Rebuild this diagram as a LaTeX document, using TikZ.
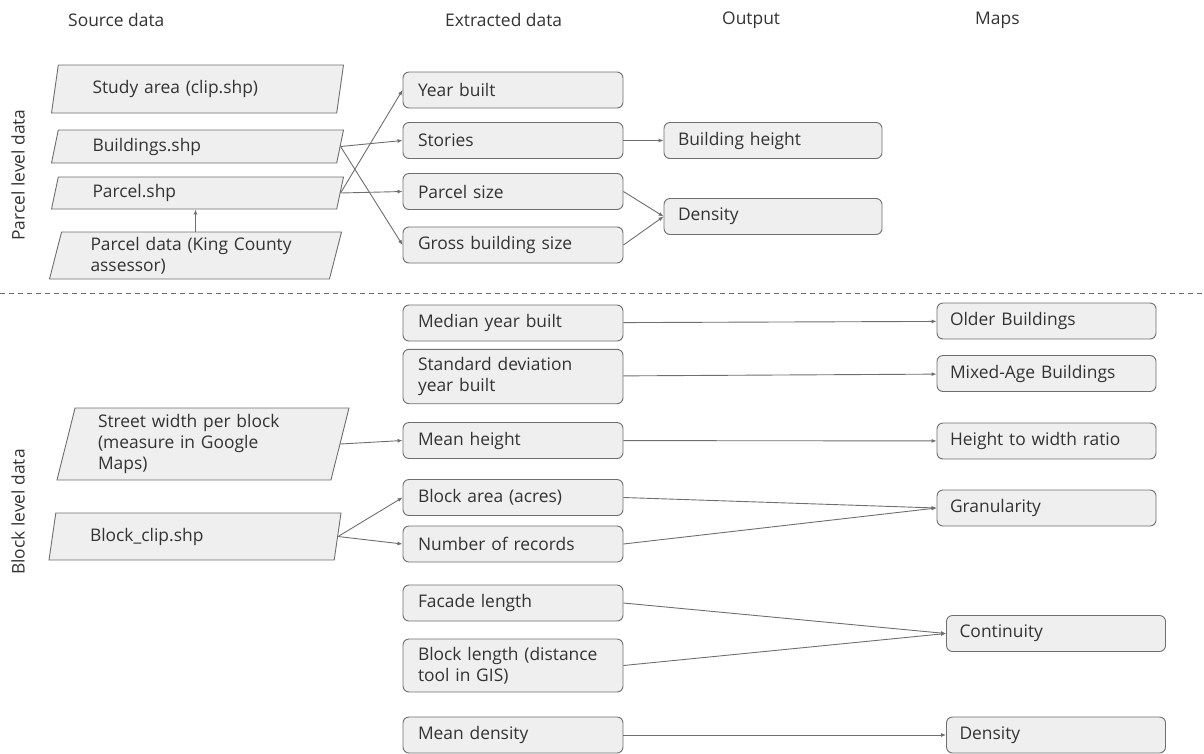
\documentclass[tikz,border=0pt]{standalone}
\usepackage{fontspec}
\setmainfont{Open Sans}
\usetikzlibrary{shapes.geometric,arrows.meta}
\definecolor{boxfill}{HTML}{EFEFEF}
\definecolor{boxline}{HTML}{6E6E6E}
\definecolor{txt}{HTML}{333333}

\begin{document}
\begin{tikzpicture}[x=1pt,y=-1pt,
    every node/.style={font=\fontsize{17.4}{21}\selectfont, text=txt},
    databox/.style={
      draw=boxline,
      fill=boxfill,
      line width=0.9pt,
      rounded corners=6pt,
      minimum width=220pt,
      minimum height=36pt,
      text width=190pt,
      inner xsep=15pt,
      inner ysep=8pt,
      align=left
    }]
\tikzset{srcbox/.style = {trapezium, trapezium left angle=75, trapezium right angle=105,
    trapezium stretches body, draw=boxline, fill=boxfill, line width=0.9pt,
    minimum width=292pt, text width=210pt, inner xsep=0pt, inner ysep=4pt, align=left}}
\tikzset{head/.style = {anchor=west, inner sep=0pt}}
\tikzset{edge/.style = {-{Latex[length=5pt,width=4pt]}, draw=boxline, line width=0.9pt}}
\useasboundingbox (0,0) rectangle (1204,753);
% column headings
\node[head] (hsrc) at (68,20) {Source data};
\node[head] (hext) at (445,20) {Extracted data};
\node[head] (hout) at (722,20) {Output};
\node[head] (hmap) at (975,20) {Maps};
% row labels
\node[rotate=90, inner sep=0pt] (lparcel) at (18,175) {Parcel level data};
\node[rotate=90, inner sep=0pt] (lblock) at (18,512) {Block level data};
\coordinate (divl) at (0,293);
\coordinate (divr) at (1204,293);
\draw[boxline, line width=0.9pt, dash pattern=on 5pt off 4pt] (divl) -- (divr);
% source data
\node[srcbox, minimum height=48pt] (study) at (197.5,89) {Study area (clip.shp)};
\node[srcbox, minimum height=33pt] (bldg) at (197.5,146.5) {Buildings.shp};
\node[srcbox, minimum height=32pt] (parcel) at (197.5,193) {Parcel.shp};
\node[srcbox, minimum height=47pt] (pdata) at (195.5,255.5) {Parcel data (King County\\assessor)};
\node[srcbox, minimum height=72pt] (street) at (203,444) {Street width per block\\(measure in Google\\Maps)};
\node[srcbox, minimum height=47pt] (bclip) at (195,536.5) {Block\_clip.shp};
% extracted data
\node[databox] (year) at (513,90) {Year built};
\node[databox] (stories) at (513,140.5) {Stories};
\node[databox] (psize) at (513,191.5) {Parcel size};
\node[databox] (gross) at (513,245) {Gross building size};
\node[databox] (median) at (513,323) {Median year built};
\node[databox] (stdev) at (513,376.5) {Standard deviation\\year built};
\node[databox] (mheight) at (513,440.5) {Mean height};
\node[databox] (barea) at (513,497.5) {Block area (acres)};
\node[databox] (nrec) at (513,544) {Number of records};
\node[databox] (facade) at (513,603) {Facade length};
\node[databox] (blength) at (513,665.5) {Block length (distance\\tool in GIS)};
\node[databox] (mdens) at (513,735) {Mean density};
% output
\node[databox, minimum width=218pt, text width=190pt, inner xsep=14pt] (bheight) at (773,140.5) {Building height};
\node[databox, minimum width=218pt, text width=190pt, inner xsep=14pt] (odens) at (773,216.5) {Density};
% maps
\node[databox, minimum width=219pt, text width=193pt, inner xsep=13pt] (older) at (1046.5,321) {Older Buildings};
\node[databox, minimum width=219pt, text width=193pt, inner xsep=13pt] (mixed) at (1046.5,373.5) {Mixed-Age Buildings};
\node[databox, minimum width=219pt, text width=193pt, inner xsep=13pt] (hwratio) at (1046.5,441) {Height to width ratio};
\node[databox, minimum width=219pt, text width=193pt, inner xsep=13pt] (gran) at (1046.5,508) {Granularity};
\node[databox, minimum width=219pt, text width=193pt, inner xsep=13pt] (cont) at (1056,633.5) {Continuity};
\node[databox, minimum width=219pt, text width=193pt, inner xsep=13pt] (mdensmap) at (1056,735) {Density};
% parcel level
\draw[edge] (pdata.north) -- (pdata.north |- parcel.south);
\draw[edge] (bldg.east) -- (stories.west);
\draw[edge] (bldg.east) -- (gross.west);
\draw[edge] (parcel.east) -- (year.west);
\draw[edge] (parcel.east) -- (psize.west);
\draw[edge] (stories) -- (bheight);
\draw[edge] (psize.east) -- (odens.west);
\draw[edge] (gross.east) -- (odens.west);
% block level
\draw[edge] (median) -- (older);
\draw[edge] (stdev) -- (mixed);
\draw[edge] (street.east) -- (mheight.west);
\draw[edge] (mheight) -- (hwratio);
\draw[edge] (bclip.east) -- (barea.west);
\draw[edge] (bclip.east) -- (nrec.west);
\draw[edge] (barea.east) -- (gran.west);
\draw[edge] (nrec.east) -- (gran.west);
\draw[edge] (facade.east) -- (cont.west);
\draw[edge] (blength.east) -- (cont.west);
\draw[edge] (mdens) -- (mdensmap);
\end{tikzpicture}
\end{document}
